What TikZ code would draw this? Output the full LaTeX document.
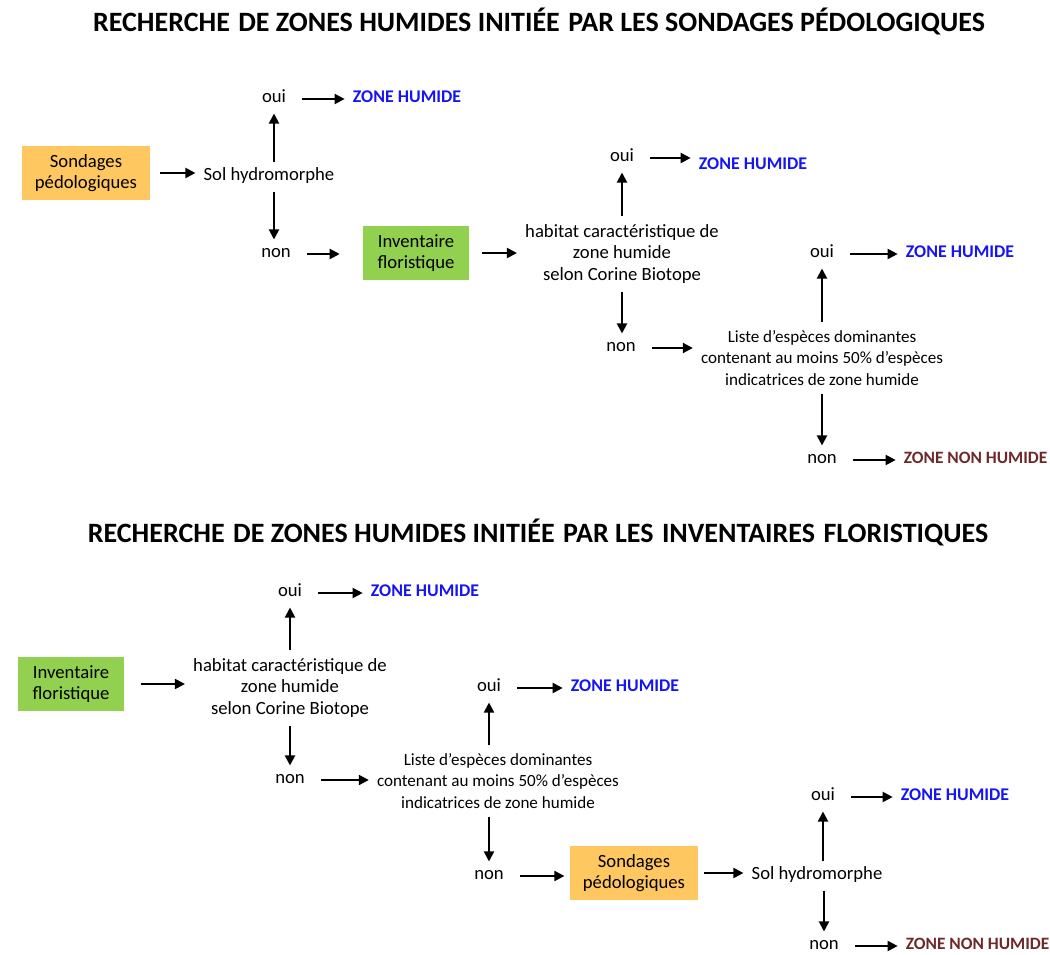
\documentclass[tikz,border=0pt]{standalone}
\usepackage{fontspec}
\setmainfont{Carlito}
\usepackage{tikz}
\usetikzlibrary{arrows.meta}

\definecolor{sondcol}{RGB}{255,199,95}
\definecolor{invcol}{RGB}{146,208,80}
\definecolor{zhblue}{RGB}{20,20,245}
\definecolor{znhred}{RGB}{110,40,40}

\begin{document}
\begin{tikzpicture}[
  x=0.75pt, y=-0.75pt,
  font=\fontsize{14}{16}\selectfont,
  >={Triangle[length=7.5pt,width=7.5pt]},
  titletext/.style={font=\fontsize{21}{24}\selectfont\bfseries, inner sep=0pt},
  sondbox/.style={fill=sondcol, minimum width=96pt, minimum height=40.5pt, align=center, inner sep=2pt},
  invbox/.style={fill=invcol, minimum width=80pt, minimum height=40.5pt, align=center, inner sep=2pt},
  answer/.style={inner xsep=8pt, inner ysep=2pt, text height=0.72em, text depth=0.22em},
  plain/.style={inner sep=2pt, text height=0.72em, text depth=0.22em},
  question/.style={align=center, inner sep=2pt},
  listq/.style={question, font=\fontsize{12.8}{16}\selectfont},
  zh/.style={anchor=west, inner sep=2pt, text height=0.72em, text depth=0.22em, text=zhblue, font=\fontsize{13.4}{15}\selectfont\bfseries},
  znh/.style={zh, text=znhred, font=\fontsize{13}{15}\selectfont\bfseries},
  flow/.style={->, draw=black, line width=1.5pt, shorten <=4pt, shorten >=4pt}
]
  \useasboundingbox (0,0) rectangle (1050,955);

  \node[titletext] (title1) at (539,22) {RECHERCHE\hspace{0.3em}DE ZONES HUMIDES INITIÉE\hspace{0.3em}PAR LES SONDAGES PÉDOLOGIQUES};
  \node[sondbox] (sond1) at (86,173) {Sondages\\pédologiques};
  \node[plain] (sol1) at (269,177) {Sol hydromorphe};
  \node[answer] (oui1) at (274,99) {oui};
  \node[zh] (zh1) at (350,99) {ZONE HUMIDE};
  \node[answer] (non1) at (276,254) {non};
  \node[invbox] (inv1) at (416,253) {Inventaire\\floristique};
  \node[question] (hab1) at (622,254) {habitat caractéristique de\\zone humide\\selon Corine Biotope};
  \node[answer] (oui2) at (622,158) {oui};
  \node[zh] (zh2) at (696,166) {ZONE HUMIDE};
  \node[answer] (non2) at (621,348) {non};
  \node[listq] (liste1) at (822,358) {Liste d’espèces dominantes\\contenant au moins 50\% d’espèces\\indicatrices de zone humide};
  \node[answer] (oui3) at (822,254) {oui};
  \node[zh] (zh3) at (903,254) {ZONE HUMIDE};
  \node[answer] (non3) at (822,460) {non};
  \node[znh] (znh1) at (901,460) {ZONE NON HUMIDE};

  \draw[flow, shorten <=7pt] (sond1.east) -- (sond1.east -| sol1.west);
  \draw[flow] (oui1.south |- sol1.north) -- (oui1.south);
  \draw[flow] (oui1.east) -- (oui1.east -| zh1.west);
  \draw[flow] (oui1.south |- sol1.south) -- (non1.north -| oui1.south);
  \draw[flow, shorten >=17pt] (non1.east) -- (non1.east -| inv1.west);
  \draw[flow, shorten <=9pt] (inv1.east) -- (inv1.east -| hab1.west);
  \draw[flow] (hab1.north) -- (oui2.south);
  \draw[flow] (oui2.east) -- (oui2.east -| zh2.west);
  \draw[flow] (hab1.south) -- (non2.north -| hab1.south);
  \draw[flow] (non2.east) -- (non2.east -| liste1.west);
  \draw[flow] (liste1.north) -- (oui3.south);
  \draw[flow] (oui3.east) -- (oui3.east -| zh3.west);
  \draw[flow] (liste1.south) -- (non3.north);
  \draw[flow] (non3.east) -- (non3.east -| znh1.west);

  \node[titletext] (title2) at (538,532) {RECHERCHE\hspace{0.3em}DE ZONES HUMIDES INITIÉE\hspace{0.3em}PAR LES\hspace{0.3em}INVENTAIRES\hspace{0.3em}FLORISTIQUES};
  \node[invbox] (inv2) at (71,684) {Inventaire\\floristique};
  \node[question] (hab2) at (290,688) {habitat caractéristique de\\zone humide\\selon Corine Biotope};
  \node[answer] (oui4) at (290,593) {oui};
  \node[zh] (zh4) at (368,593) {ZONE HUMIDE};
  \node[answer] (non4) at (290,780) {non};
  \node[listq] (liste2) at (498,781) {Liste d’espèces dominantes\\contenant au moins 50\% d’espèces\\indicatrices de zone humide};
  \node[answer] (oui5) at (489,688) {oui};
  \node[zh] (zh5) at (568,688) {ZONE HUMIDE};
  \node[answer] (non5) at (489,876) {non};
  \node[sondbox] (sond2) at (634,873) {Sondages\\pédologiques};
  \node[plain] (sol2) at (817,876) {Sol hydromorphe};
  \node[answer] (oui6) at (823,797) {oui};
  \node[zh] (zh6) at (898,797) {ZONE HUMIDE};
  \node[answer] (non6) at (824,946) {non};
  \node[znh] (znh2) at (903,946) {ZONE NON HUMIDE};

  \draw[flow, shorten <=12pt] (inv2.east) -- (inv2.east -| hab2.west);
  \draw[flow] (hab2.north) -- (oui4.south);
  \draw[flow] (oui4.east) -- (oui4.east -| zh4.west);
  \draw[flow] (hab2.south) -- (non4.north);
  \draw[flow] (non4.east) -- (non4.east -| liste2.west);
  \draw[flow] (oui5.south |- liste2.north) -- (oui5.south);
  \draw[flow] (oui5.east) -- (oui5.east -| zh5.west);
  \draw[flow] (non5.north |- liste2.south) -- (non5.north);
  \draw[flow] (non5.east) -- (non5.east -| sond2.west);
  \draw[flow] (sond2.east) -- (sond2.east -| sol2.west);
  \draw[flow] (oui6.south |- sol2.north) -- (oui6.south);
  \draw[flow] (oui6.east) -- (oui6.east -| zh6.west);
  \draw[flow] (non6.north |- sol2.south) -- (non6.north);
  \draw[flow] (non6.east) -- (non6.east -| znh2.west);
\end{tikzpicture}
\end{document}
